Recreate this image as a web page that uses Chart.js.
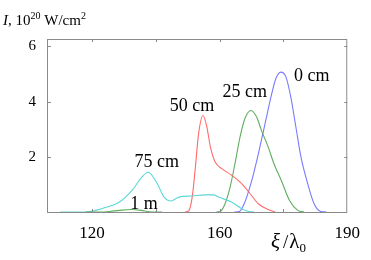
<!DOCTYPE html>
<html>
<head>
<meta charset="utf-8">
<script src="https://cdn.jsdelivr.net/npm/chart.js@4.4.1/dist/chart.umd.min.js"></script>
<style>
  html, body { margin: 0; padding: 0; background: #fff; }
  canvas { display: block; }
</style>
</head>
<body>
<canvas id="pulseChart" width="371" height="260"></canvas>
<script>
// axis ticks
const xiTicks = [120, 140, 160, 180, 200];
const xiTickLabels = ['120', '', '160', '', '190'];
const intensityTicks = [0, 2, 4, 6];
const intensityTickLabels = ['', '2', '4', '6'];

// 0 cm
const xi0cm = [164.6, 166.2, 167.7, 169.8, 171.9, 174.0, 176.1, 177.6, 179.2, 180.8, 182.3, 183.9, 185.5, 187.6, 189.6, 191.5, 193.4];
const I0cm = [0, 0.02, 0.30, 1.03, 1.99, 3.08, 4.17, 4.83, 5.07, 4.89, 4.17, 3.08, 1.99, 1.03, 0.30, 0.03, 0];

// 25 cm
const xi25cm = [159.0, 160.3, 161.7, 163.3, 164.8, 166.4, 167.9, 169.8, 171.6, 173.1, 175.2, 177.0, 179.3, 181.9, 184.5, 186.4];
const I25cm = [0, 0.03, 0.30, 0.91, 1.75, 2.72, 3.38, 3.68, 3.44, 2.96, 2.36, 1.76, 1.15, 0.42, 0.06, 0];

// 50 cm
const xi50cm = [149.1, 150.3, 151.4, 152.4, 153.4, 154.8, 156.0, 157.1, 158.6, 160.7, 163.8, 166.9, 169.5, 172.1, 175.2, 177.4];
const I50cm = [0, 0.04, 0.54, 1.63, 2.84, 3.50, 3.08, 2.36, 1.81, 1.57, 1.33, 1.03, 0.67, 0.30, 0.09, 0];

// 75 cm
const xi75cm = [110, 116.2, 119.3, 123.3, 128.6, 132.6, 135.3, 137.6, 140.4, 142.6, 144.7, 147.2, 151.3, 155.6, 158.1, 159.7, 163.7, 166.8, 169.0, 170.8];
const I75cm = [0, 0, 0.02, 0.13, 0.36, 0.79, 1.22, 1.44, 1.04, 0.54, 0.40, 0.54, 0.58, 0.62, 0.62, 0.54, 0.36, 0.13, 0.02, 0];

// 1 m
const xi1m = [118, 122.4, 125.5, 128.6, 132.3, 135.4, 137.9, 139.5, 142];
const I1m = [0, 0, 0.02, 0.06, 0.09, 0.06, 0.01, 0, 0];

const curveLabels = ['0 cm', '25 cm', '50 cm', '75 cm', '1 m'];

// where the curve names sit (data units)
const labelSpots = [
    { xi: 183.3, I: 4.76 },
    { xi: 160.9, I: 4.18 },
    { xi: 144.4, I: 3.65 },
    { xi: 133.3, I: 1.63 },
    { xi: 132.0, I: 0.12 }
];

const serif = '"Liberation Serif", "Times New Roman", serif';

function toPoints(xs, ys) {
    return xs.map((v, i) => ({ x: v, y: ys[i] }));
}

function line(label, xs, ys, color) {
    return {
        label: label,
        data: toPoints(xs, ys),
        borderColor: color,
        borderWidth: 1.1,
        pointRadius: 0,
        fill: false,
        cubicInterpolationMode: 'monotone'
    };
}

const frameAndText = {
    id: 'frameAndText',
    afterDraw(chart) {
        const { ctx, chartArea: a, scales } = chart;
        const x = scales.x, y = scales.y;
        ctx.save();

        // box
        ctx.strokeStyle = '#8a8a8a';
        ctx.lineWidth = 1;
        ctx.strokeRect(a.left - 0.5, a.top + 0.5, a.right - a.left, a.bottom - a.top);

        // inward tick marks on all four sides
        ctx.beginPath();
        xiTicks.forEach(v => {
            if (v <= x.min || v >= x.max) return;
            const px = Math.round(x.getPixelForValue(v)) + 0.5;
            ctx.moveTo(px, a.top); ctx.lineTo(px, a.top + 3);
            ctx.moveTo(px, a.bottom); ctx.lineTo(px, a.bottom - 3);
        });
        intensityTicks.forEach(v => {
            if (v <= y.min || v >= y.max) return;
            const py = Math.round(y.getPixelForValue(v)) + 0.5;
            ctx.moveTo(a.left, py); ctx.lineTo(a.left + 3, py);
            ctx.moveTo(a.right, py); ctx.lineTo(a.right - 3, py);
        });
        ctx.stroke();

        // curve names
        ctx.fillStyle = '#000';
        ctx.textAlign = 'left';
        ctx.textBaseline = 'alphabetic';
        ctx.font = '18px ' + serif;
        curveLabels.forEach((t, i) => {
            ctx.fillText(t, x.getPixelForValue(labelSpots[i].xi), y.getPixelForValue(labelSpots[i].I));
        });

        // y title: I, 10^20 W/cm^2
        let cx = 3;
        const base = 25;
        const part = (txt, font, dy) => {
            ctx.font = font;
            ctx.fillText(txt, cx, base + dy);
            cx += ctx.measureText(txt).width;
        };
        part('I', 'italic 15px ' + serif, 0);
        part(', 10', '15px ' + serif, 0);
        part('20', '10px ' + serif, -6);
        part(' W/cm', '15px ' + serif, 0);
        part('2', '10px ' + serif, -6);

        // x title: xi / lambda_0
        cx = 271;
        const xb = 248;
        ctx.font = 'italic 21px ' + serif;
        ctx.fillText('ξ', cx, xb);
        cx += ctx.measureText('ξ').width + 3;
        ctx.font = '19px ' + serif;
        ctx.fillText('/', cx, xb);
        cx += ctx.measureText('/').width + 1;
        ctx.font = '21px ' + serif;
        ctx.fillText('λ', cx, xb);
        cx += ctx.measureText('λ').width;
        ctx.font = '13px ' + serif;
        ctx.fillText('0', cx, xb + 4);

        ctx.restore();
    }
};

const ctx = document.getElementById('pulseChart').getContext('2d');
const pulseChart = new Chart(ctx, {
    type: 'line',
    data: {
        datasets: [
            line('1 m', xi1m, I1m, '#5fae5f'),
            line('75 cm', xi75cm, I75cm, '#5cd8d8'),
            line('50 cm', xi50cm, I50cm, '#ff6b6b'),
            line('25 cm', xi25cm, I25cm, '#5fae5f'),
            line('0 cm', xi0cm, I0cm, '#7a7aff')
        ]
    },
    options: {
        responsive: false,
        animation: false,
        devicePixelRatio: 1,
        layout: { padding: { top: 39, right: 21, left: 0, bottom: 0 } },
        plugins: {
            legend: { display: false },
            tooltip: { enabled: false }
        },
        scales: {
            x: {
                type: 'linear',
                min: 106.2,
                max: 200,
                grid: { display: false, drawTicks: false },
                border: { display: false },
                afterBuildTicks: s => { s.ticks = xiTicks.map(v => ({ value: v })); },
                afterFit: s => { s.height = 48; },
                ticks: {
                    padding: 11,
                    autoSkip: false,
                    maxRotation: 0,
                    color: '#000',
                    font: { family: serif, size: 17 },
                    callback: v => xiTickLabels[xiTicks.indexOf(v)] || ''
                }
            },
            y: {
                min: 0,
                max: 6.27,
                grid: { display: false, drawTicks: false },
                border: { display: false },
                afterBuildTicks: s => { s.ticks = intensityTicks.map(v => ({ value: v })); },
                afterFit: s => { s.width = 48; },
                ticks: {
                    padding: 12,
                    color: '#000',
                    font: { family: serif, size: 15 },
                    callback: v => intensityTickLabels[intensityTicks.indexOf(v)] || ''
                }
            }
        }
    },
    plugins: [frameAndText]
});
</script>
</body>
</html>
